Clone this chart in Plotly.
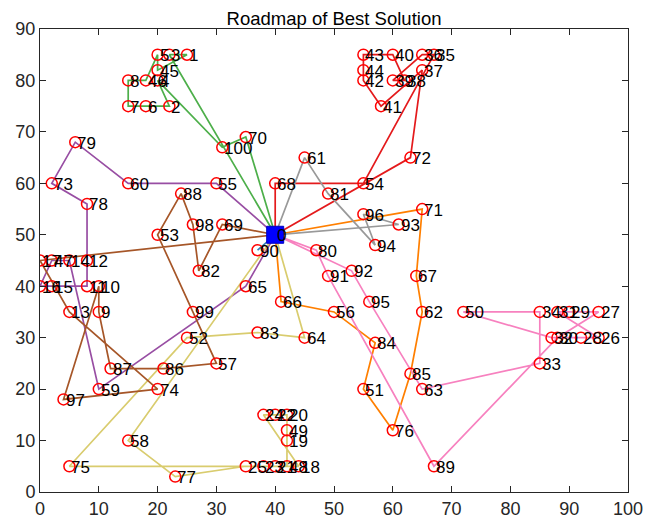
import plotly.graph_objects as go

# Node coordinates (index = node id, 0 = depot)
node_x = [40, 25, 22, 22, 20, 20, 18, 15, 15, 10, 10, 8, 8, 5, 5, 2, 0, 0, 44, 42, 42,
          40, 40, 38, 38, 35, 95, 95, 92, 90, 88, 88, 87, 85, 85, 67, 65, 65, 62, 60, 60,
          58, 55, 55, 55, 20, 18, 2, 42, 42, 72, 55, 25, 20, 55, 30, 50, 30, 15, 10, 15,
          45, 65, 65, 45, 35, 41, 64, 40, 31, 35, 65, 63, 2, 20, 5, 60, 23, 8, 6, 47,
          49, 27, 37, 57, 63, 21, 12, 24, 67, 37, 49, 53, 61, 57, 56, 55, 4, 26, 26, 31]
node_y = [50, 85, 75, 85, 80, 85, 75, 75, 80, 35, 40, 40, 45, 35, 45, 40, 40, 45, 5, 10, 15,
          5, 15, 5, 15, 5, 30, 35, 30, 35, 30, 35, 30, 25, 35, 85, 85, 82, 80, 80, 85,
          75, 80, 85, 82, 82, 80, 45, 5, 12, 35, 20, 30, 50, 60, 60, 35, 25, 10, 20, 60,
          65, 35, 20, 30, 40, 37, 42, 60, 52, 69, 55, 65, 60, 20, 5, 12, 3, 56, 68, 47,
          58, 43, 31, 29, 23, 24, 24, 58, 5, 47, 42, 43, 52, 48, 37, 54, 18, 52, 35, 67]

# Vehicle routes (node ids, starting and ending at the depot)
route_red = [0, 68, 54, 35, 36, 39, 38, 40, 43, 44, 42, 41, 37, 72, 0]
route_blue = [0, 90, 0]
route_green = [0, 70, 100, 4, 2, 6, 7, 8, 46, 5, 45, 1, 3, 0]
route_purple = [0, 55, 60, 79, 73, 78, 12, 11, 15, 16, 47, 14, 59, 65, 0]
route_orange = [0, 71, 67, 62, 85, 76, 51, 84, 56, 66, 0]
route_yellow = [0, 64, 83, 52, 75, 18, 24, 22, 20, 49, 19, 48, 21, 23, 25, 77, 58, 0]
route_brown = [0, 17, 13, 74, 97, 10, 9, 87, 86, 57, 99, 53, 88, 98, 82, 69, 0]
route_pink = [0, 80, 91, 89, 30, 27, 29, 31, 26, 28, 32, 50, 34, 33, 63, 95, 92, 0]
route_grey = [0, 61, 81, 94, 96, 93, 0]

routes = [route_red, route_blue, route_green, route_purple, route_orange,
          route_yellow, route_brown, route_pink, route_grey]
route_colors = ["#E41A1C", "#377EB8", "#4DAF4A", "#984EA3", "#FF7F00",
                "#D9CC6E", "#A65628", "#F781BF", "#999999"]

x_ticks = list(range(0, 101, 10))
y_ticks = list(range(0, 91, 10))

FONT = "Liberation Sans, Arial, Helvetica, sans-serif"

fig = go.Figure()

for r, c in zip(routes, route_colors):
    fig.add_trace(go.Scatter(
        x=[node_x[i] for i in r], y=[node_y[i] for i in r],
        mode="lines", line=dict(color=c, width=1.7),
        hoverinfo="skip", showlegend=False))

customers = list(range(1, len(node_x)))
fig.add_trace(go.Scatter(
    x=[node_x[i] for i in customers], y=[node_y[i] for i in customers],
    mode="markers",
    marker=dict(symbol="circle-open", size=11, color="#FF0000",
                line=dict(color="#FF0000", width=1.5)),
    showlegend=False))

fig.add_trace(go.Scatter(
    x=[node_x[0]], y=[node_y[0]], mode="markers",
    marker=dict(symbol="square", size=17, color="#0000FF",
                line=dict(color="#0000C0", width=1)),
    showlegend=False))

# node id labels, starting just right of each node centre
for i in range(len(node_x)):
    fig.add_annotation(
        x=node_x[i], y=node_y[i], text=str(i), showarrow=False,
        xanchor="left", yanchor="middle", xshift=0, yshift=-1,
        font=dict(family=FONT, size=17, color="#000000"))

axis_common = dict(
    showgrid=False, zeroline=False, showline=True, mirror="ticks",
    linecolor="#262626", linewidth=1, ticks="inside", ticklen=6,
    tickcolor="#262626", automargin=False,
    tickfont=dict(family=FONT, size=18, color="#262626"),
)

fig.update_layout(
    width=659, height=519,
    margin=dict(l=40, r=31, t=29, b=27),
    paper_bgcolor="white", plot_bgcolor="white",
    title=dict(text="Roadmap of Best Solution", x=0.5, xref="paper",
               y=1, yref="paper", yanchor="bottom", pad=dict(b=4),
               font=dict(family=FONT, size=18.5, color="#000000")),
    xaxis=dict(range=[0, 100], tickvals=x_ticks, **axis_common),
    yaxis=dict(range=[0, 90], tickvals=y_ticks, **axis_common),
)

fig.write_html("out.html")
